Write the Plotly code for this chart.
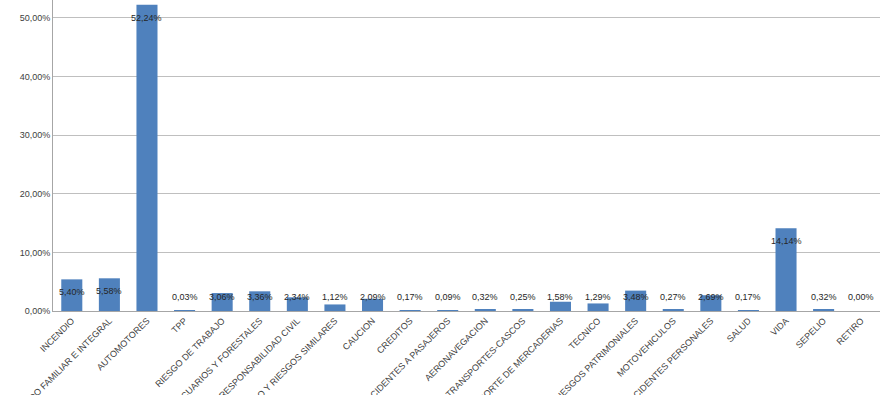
import plotly.graph_objects as go

categories = ["INCENDIO", "COMBINADO FAMILIAR E INTEGRAL", "AUTOMOTORES", "TPP",
              "RIESGO DE TRABAJO", "AGROPECUARIOS Y FORESTALES", "RESPONSABILIDAD CIVIL",
              "ROBO Y RIESGOS SIMILARES", "CAUCION", "CREDITOS", "ACCIDENTES A PASAJEROS",
              "AERONAVEGACION", "TRANSPORTES-CASCOS", "TRANSPORTE DE MERCADERIAS", "TECNICO",
              "OTROS RIESGOS PATRIMONIALES", "MOTOVEHICULOS", "ACCIDENTES PERSONALES",
              "SALUD", "VIDA", "SEPELIO", "RETIRO"]
values = [5.40, 5.58, 52.24, 0.03, 3.06, 3.36, 2.34, 1.12, 2.09, 0.17, 0.09,
          0.32, 0.25, 1.58, 1.29, 3.48, 0.27, 2.69, 0.17, 14.14, 0.32, 0.00]
y_ticks = [0, 10, 20, 30, 40, 50]

def pct(v):
    return f"{v:.2f}".replace(".", ",") + "%"

y_max = 53.07
plot_h = 311
px_per = plot_h / y_max

fig = go.Figure()
fig.add_trace(go.Bar(x=categories, y=values, marker=dict(color="#4F81BD", line=dict(width=0)),
                     hoverinfo="skip"))

for c, v in zip(categories, values):
    ydata = max(v - 13 / px_per, 14 / px_per)
    fig.add_annotation(x=c, y=ydata, text=pct(v), showarrow=False,
                       font=dict(family="Liberation Sans", size=9, color="#262626"),
                       xanchor="center", yanchor="middle")

fig.update_layout(
    width=890, height=395,
    margin=dict(l=53, r=10, t=0, b=84),
    paper_bgcolor="white", plot_bgcolor="white",
    showlegend=False, bargap=0.44,
    font=dict(family="Liberation Sans", size=9, color="#404040"),
    xaxis=dict(tickangle=-45, showline=True, linecolor="#A6A6A6", linewidth=1,
               ticks="", automargin=False, tickfont=dict(size=9, color="#404040")),
    yaxis=dict(range=[0, y_max], tickvals=y_ticks, ticktext=[pct(t) for t in y_ticks],
               showgrid=True, gridcolor="#BFBFBF", gridwidth=1, zeroline=False,
               showline=True, linecolor="#A6A6A6", linewidth=1, ticks="",
               automargin=False, tickfont=dict(size=9, color="#404040")),
)
fig.write_html("out.html")
